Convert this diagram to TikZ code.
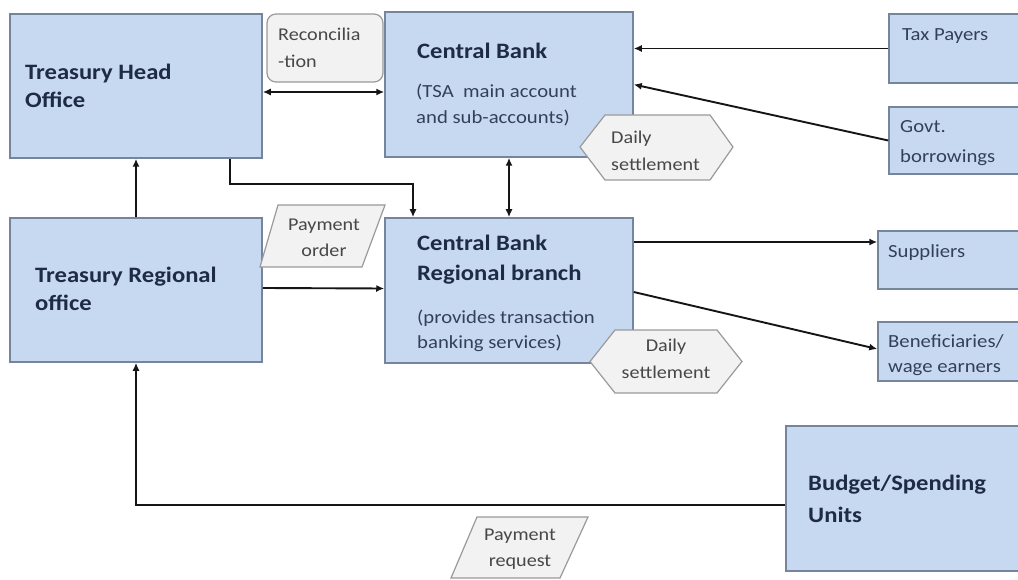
\documentclass[tikz,border=0pt]{standalone}
\usepackage{fontspec}
\setmainfont{Carlito}[FakeStretch=1.12]
\usetikzlibrary{arrows.meta,calc}
\definecolor{boxfill}{HTML}{C6D9F0}
\definecolor{boxline}{HTML}{76859E}
\definecolor{lblfill}{HTML}{F2F2F2}
\definecolor{lblline}{HTML}{9A9A9A}
\definecolor{navy}{HTML}{1F2B45}
\definecolor{txt}{HTML}{34405A}
\definecolor{conncol}{HTML}{151515}
\begin{document}
\begin{tikzpicture}[x=1pt,y=-1pt,
  box/.style={draw=boxline, fill=boxfill, line width=1.5pt, inner sep=0pt},
  lblbox/.style={draw=lblline, fill=lblfill, line width=1.2pt},
  bigtxt/.style={font=\fontsize{22}{#1}\selectfont\bfseries, text=navy, align=left, anchor=west, inner sep=0pt},
  bigtxt/.default=28,
  smalltxt/.style={font=\fontsize{18.5}{#1}\selectfont, text=txt, align=left, anchor=west, inner sep=0pt},
  smalltxt/.default=25,
  lbltxt/.style={font=\fontsize{18}{#1}\selectfont, text=black!72, inner sep=0pt},
  lbltxt/.default=27,
  conn/.style={draw=conncol, line width=1.9pt, -{Latex[length=8pt,width=7pt]}},
  biconn/.style={draw=conncol, line width=1.9pt, {Latex[length=8pt,width=7pt]}-{Latex[length=8pt,width=7pt]}}
]
\useasboundingbox (0,0) rectangle (1018,580);
\fill[white] (0,0) rectangle (1018,580);

% boxes
\node[box, minimum width=252pt, minimum height=144pt] (tho) at (136,86) {};
\node[box, minimum width=248pt, minimum height=145pt] (cb) at (509,84.5) {};
\node[box, minimum width=141pt, minimum height=69pt] (tax) at (959.5,48.5) {};
\node[box, minimum width=141pt, minimum height=67pt] (govt) at (959.5,140.5) {};
\node[box, minimum width=252pt, minimum height=144pt] (tro) at (136,290) {};
\node[box, minimum width=248pt, minimum height=145pt] (cbr) at (509,290.5) {};
\node[box, minimum width=152pt, minimum height=58pt] (sup) at (954,260) {};
\node[box, minimum width=152pt, minimum height=59pt] (ben) at (954,351.5) {};
\node[box, minimum width=244pt, minimum height=145pt] (bsu) at (908,498.5) {};

% box texts
\node[bigtxt] (thoT) at (25,86) {Treasury Head\\Office};
\node[bigtxt] (cbT) at (417,51) {Central Bank};
\node[smalltxt=26] (cbS) at (416,105) {(TSA\ \ main account\\and sub-accounts)};
\node[bigtxt] (troT) at (35,289) {Treasury Regional\\office};
\node[bigtxt=30] (cbrT) at (417,260) {Central Bank\\Regional branch};
\node[smalltxt] (cbrS) at (417,330.5) {(provides transaction\\banking services)};
\node[smalltxt] (taxT) at (902,36) {Tax Payers};
\node[smalltxt=30] (govtT) at (900,143) {Govt.\\borrowings};
\node[smalltxt] (supT) at (888,253) {Suppliers};
\node[smalltxt] (benT) at (888,355.5) {Beneficiaries/\\wage earners};
\node[bigtxt=32] (bsuT) at (808,499) {Budget/Spending\\Units};

% connectors
\draw[biconn] ([yshift=-6pt]tho.east) -- ([yshift=-6pt]tho.east -| cb.west);
\draw[conn] ([xshift=94pt]tho.south) -- ++(0,25) -| ([xshift=-96pt]cbr.north);
\draw[biconn] (cb.south) -- (cbr.north);
\draw[conn] (tax.west) -- (tax.west -| cb.east);
\draw[conn] (govt.west) -- (cb.east);
\draw[conn] (tro.north) -- (tho.south);
\draw[conn] ([yshift=2pt]tro.east) -- ([yshift=2pt]cbr.west);
\draw[conn] ([yshift=48.5pt]cbr.east) -- ([yshift=48.5pt]cbr.east -| sup.west);
\draw[conn] ([yshift=-1.5pt]cbr.east) -- ([yshift=2.5pt]ben.west);
\draw[conn] ([yshift=-6.5pt]bsu.west) -| (tro.south);

% labels
\node[lblbox, rounded corners=9pt, minimum width=116pt, minimum height=68pt] (rec) at (325,48) {};
\node[lbltxt, anchor=west, align=left] (recT) at (278,48) {Reconcilia\\-tion};

\draw[lblbox] (580,147) -- (605,115) -- (710,115) -- (733,147) -- (710,180) -- (605,180) -- cycle;
\node[lbltxt, anchor=west, align=left] (ds1) at (611,151) {Daily\\settlement};

\draw[lblbox] (590,361.5) -- (615,330) -- (717,330) -- (742,361.5) -- (717,393) -- (615,393) -- cycle;
\node[lbltxt, align=center] (ds2) at (666,359) {Daily\\settlement};

\draw[lblbox] (278,205) -- (385,205) -- (362,267) -- (260,267) -- cycle;
\node[lbltxt=26, align=center] (po) at (324,238) {Payment\\order};

\draw[lblbox] (477,517) -- (588,517) -- (560,578) -- (451,578) -- cycle;
\node[lbltxt=26, align=center] (pr) at (520,549) {Payment\\request};
\end{tikzpicture}
\end{document}
